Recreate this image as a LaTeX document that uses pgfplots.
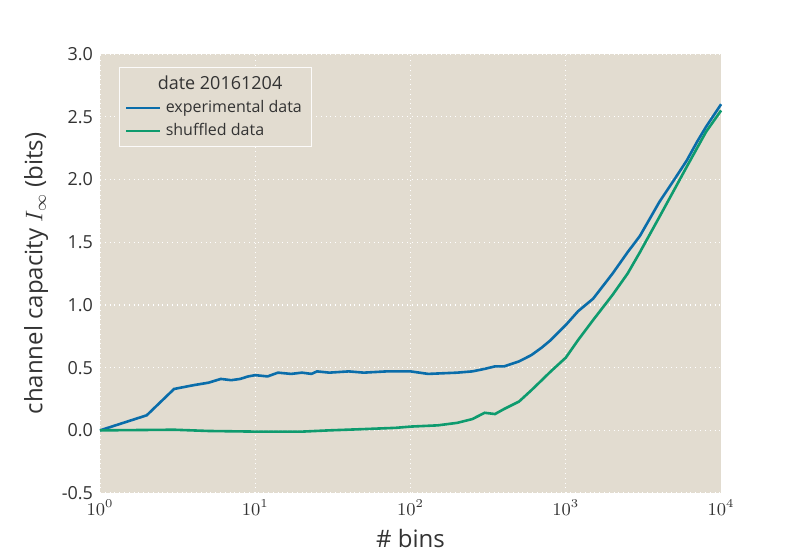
\documentclass[border=0pt]{standalone}
\usepackage{pgfplots}
\pgfplotsset{compat=1.18}
\usepackage{fontspec}
\setmainfont{Open Sans}
\definecolor{bg}{HTML}{E2DCD0}
\definecolor{expc}{HTML}{0A6DAA}
\definecolor{shc}{HTML}{0E9B6E}
\begin{document}
\begin{tikzpicture}
\begin{axis}[
  scale only axis, width=310.5pt, height=219.5pt,
  xmode=log, xmin=1, xmax=10000, ymin=-0.5, ymax=3.0,
  ytick={-0.5,0,0.5,1,1.5,2,2.5,3},
  yticklabel style={/pgf/number format/.cd,fixed,fixed zerofill,precision=1},
  /pgf/number format/assume math mode=true,
  axis background/.style={fill=bg},
  axis line style={draw=none},
  tick style={draw=none},
  grid=major, major grid style={white, dotted, line width=0.6pt},
  ticklabel style={font=\small, text=black!80},
  xlabel={\# bins}, ylabel={channel capacity $I_\infty$ (bits)},
  label style={font=\large, text=black!80},
  legend pos=north west,
  legend style={fill=bg, draw=white!90!bg, font=\footnotesize, text=black!80, cells={anchor=west}},
  legend cell align=left,
  clip=false,
]
\path[use as bounding box] (rel axis cs:-0.161,-0.130) rectangle (rel axis cs:1.127,1.123);
\addlegendimage{empty legend}\addlegendentry{\hspace{-0.5em}\small date 20161204}
\addplot[expc, line width=1.3pt] coordinates {(1,0)(2,0.12)(3,0.33)(4,0.36)(5,0.38)(6,0.41)(7,0.40)(8,0.41)(9,0.43)(10,0.44)(12,0.43)(14,0.46)(17,0.45)(20,0.46)(23,0.45)(25,0.47)(30,0.46)(40,0.47)(50,0.46)(70,0.47)(100,0.47)(130,0.45)(200,0.46)(250,0.47)(300,0.49)(350,0.51)(400,0.51)(500,0.55)(600,0.60)(700,0.66)(800,0.72)(1000,0.84)(1200,0.95)(1500,1.05)(2000,1.25)(2500,1.42)(3000,1.55)(4000,1.82)(5000,2.0)(6000,2.15)(7000,2.3)(8000,2.42)(10000,2.6)};
\addlegendentry{experimental data}
\addplot[shc, line width=1.3pt] coordinates {(1,0)(3,0.005)(5,-0.005)(10,-0.01)(20,-0.01)(30,0)(50,0.01)(80,0.02)(100,0.03)(150,0.04)(200,0.06)(250,0.09)(300,0.14)(350,0.13)(400,0.17)(500,0.23)(600,0.32)(700,0.40)(800,0.47)(1000,0.58)(1200,0.72)(1500,0.88)(2000,1.08)(2500,1.25)(3000,1.42)(4000,1.70)(5000,1.92)(6000,2.1)(7000,2.25)(8000,2.38)(10000,2.55)};
\addlegendentry{shuffled data}
\end{axis}
\end{tikzpicture}
\end{document}
